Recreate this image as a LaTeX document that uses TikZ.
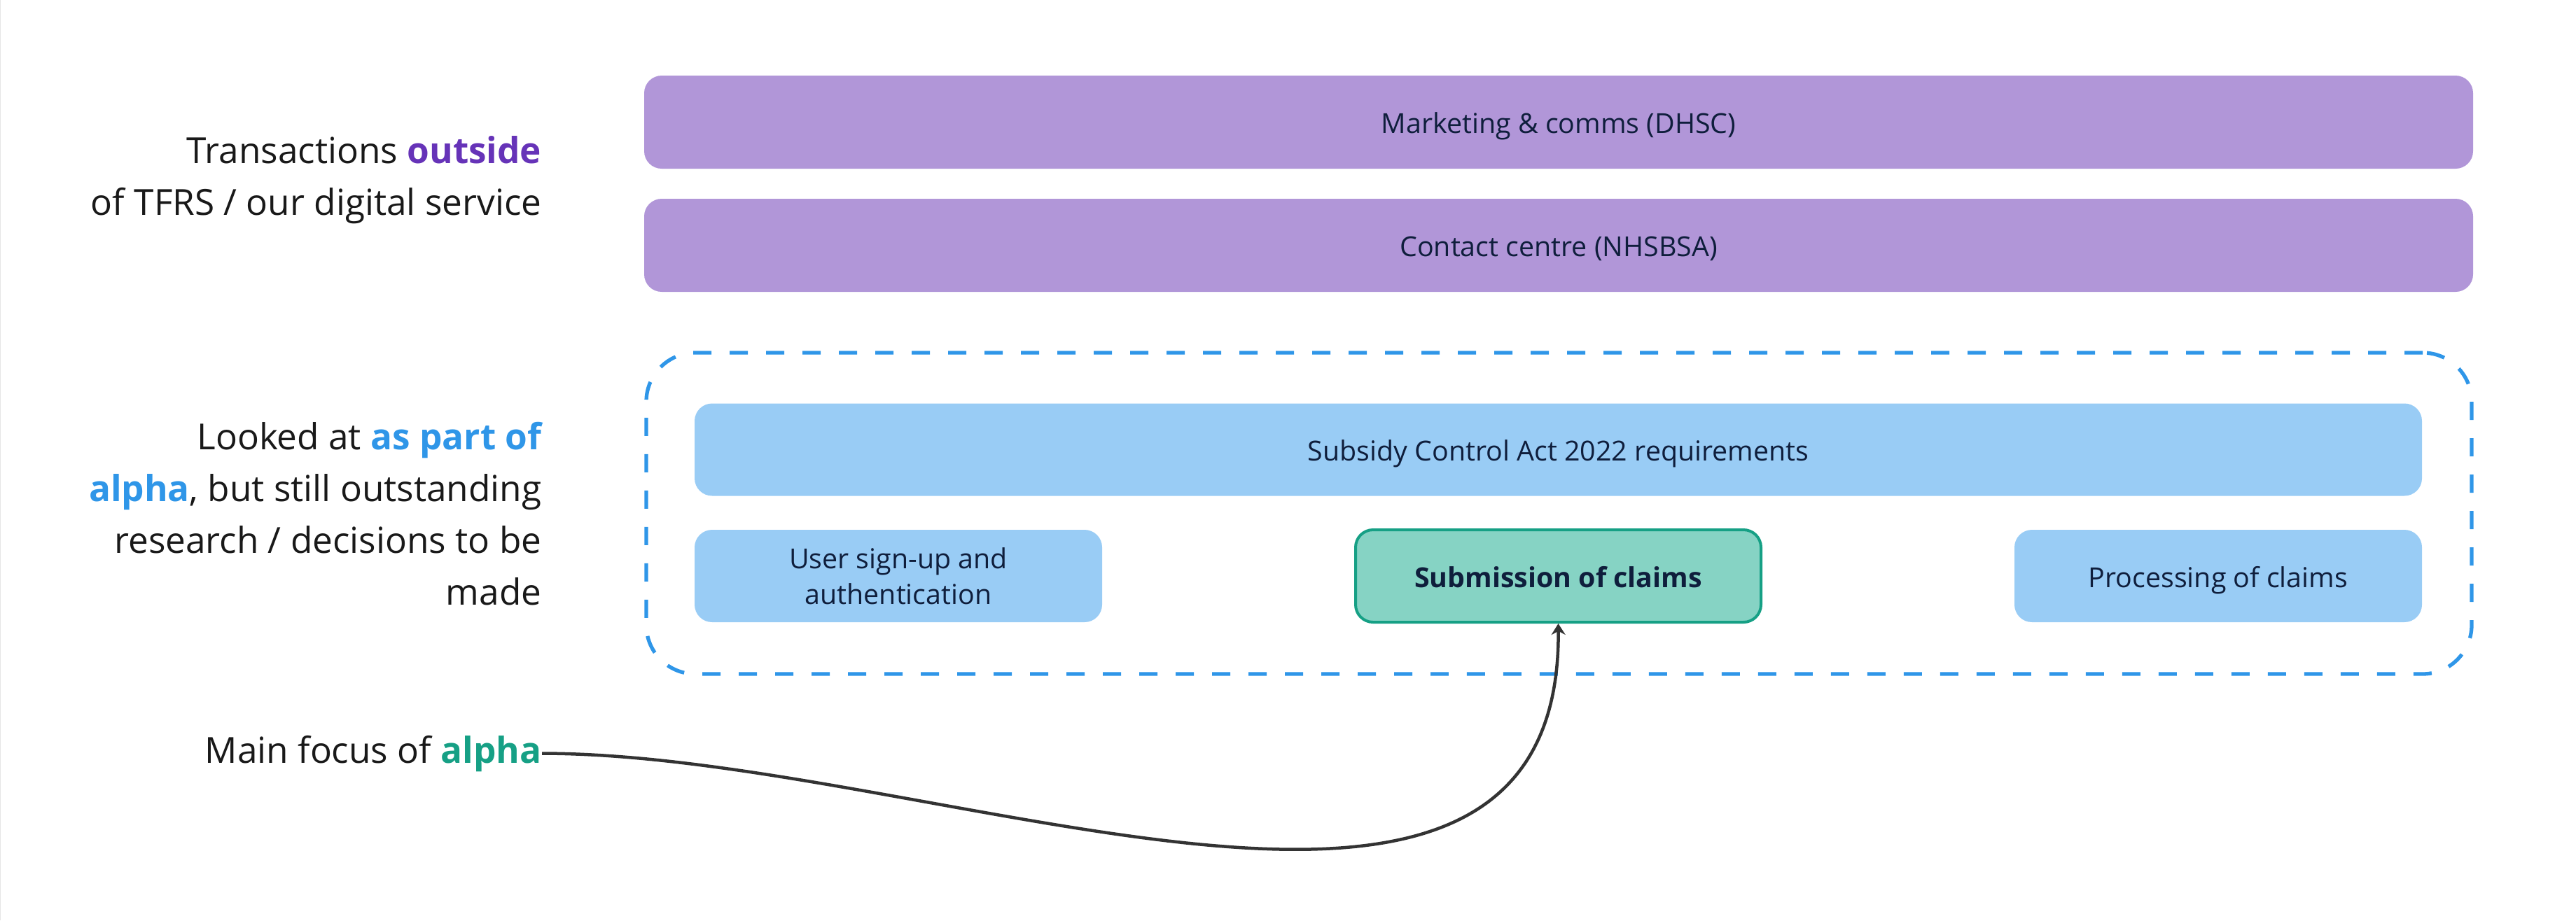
\documentclass[tikz,border=0pt]{standalone}
\usepackage{fontspec}
\setmainfont{Open Sans}
\usetikzlibrary{arrows.meta}
\definecolor{lilac}{HTML}{B196D8}
\definecolor{sky}{HTML}{99CCF5}
\definecolor{mint}{HTML}{86D3C4}
\definecolor{jade}{HTML}{16A085}
\definecolor{azure}{HTML}{2F96E8}
\definecolor{grape}{HTML}{6633B8}
\definecolor{ink}{HTML}{0F1E3C}
\definecolor{graphite}{HTML}{333333}
\newcommand\boxfont{\fontsize{11.2}{14.5}\selectfont}
\newcommand\sidefont{\fontsize{14.6}{21}\selectfont}
\begin{document}
\begin{tikzpicture}[
  oneline/.style = {text height = 0.32cm, text depth = 0cm},
  lane/.style = {oneline, fill = lilac, rounded corners = 0.25cm, minimum width = 26.12cm, minimum height = 1.33cm, font = \boxfont, text = ink},
  req/.style = {fill = sky, rounded corners = 0.25cm, minimum height = 1.32cm, font = \boxfont, text = ink, align = center},
  focusbox/.style = {req, oneline, fill = mint, draw = jade, line width = 0.04cm, font = \boxfont\bfseries},
  groupbox/.style = {draw = azure, line width = 0.053cm, dash pattern = on 0.26cm off 0.26cm, rounded corners = 0.7cm},
  sidetext/.style = {font = \sidefont, align = right, inner sep = 0pt, text = black!90}
]
\useasboundingbox (0,0) rectangle (36.79,-13.15);
\draw[gray!20, line width = 0.01cm] (0.005,0) -- (0.005,-13.15);
\foreach \y/\name/\txt in {-1.745/dhsc/Marketing \& comms (DHSC), -3.505/nhsbsa/Contact centre (NHSBSA)}
  \node[lane] (\name) at (22.26,\y) {\txt};
\node[groupbox, minimum width = 26.07cm, minimum height = 4.59cm] (alpha) at (22.265,-7.335) {};
\node[req, oneline, minimum width = 24.67cm] (sca) at (22.255,-6.425) {Subsidy Control Act 2022 requirements};
\node[req, minimum width = 5.82cm] (signup) at (12.83,-8.23) {User sign-up and\\authentication};
\node[focusbox, minimum width = 5.79cm] (submit) at (22.255,-8.23) {Submission of claims};
\node[req, oneline, minimum width = 5.82cm] (process) at (31.68,-8.23) {Processing of claims};
\node[sidetext, anchor = base east] (outside) at (7.74,-3.07) {Transactions \textcolor{grape}{\bfseries outside}\\of TFRS / our digital service};
\node[sidetext, anchor = base east] (partly) at (7.74,-8.64) {Looked at \textcolor{azure}{\bfseries as part of}\\\textcolor{azure}{\bfseries alpha}, but still outstanding\\research / decisions to be\\made};
\node[sidetext, anchor = base east] (mainfocus) at (7.74,-10.90) {Main focus of \textcolor{jade}{\bfseries alpha}};
\draw[-{Stealth[length = 0.16cm, width = 0.2cm]}, line width = 0.045cm, draw = graphite] (mainfocus.east) .. controls +(5.6,0) and +(0.05,-5.9) .. (submit.south);
\end{tikzpicture}
\end{document}
